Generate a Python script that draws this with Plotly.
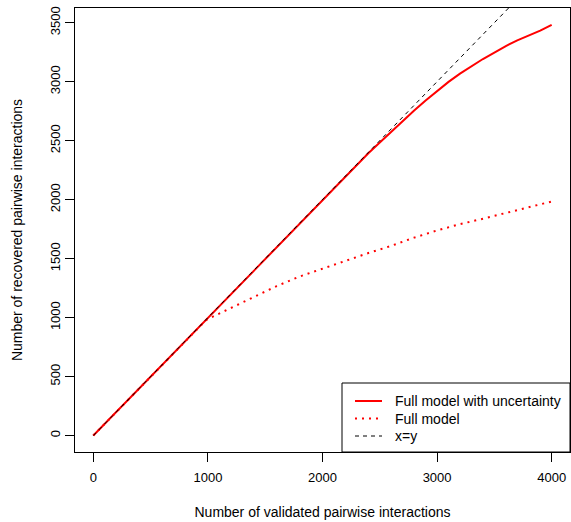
import plotly.graph_objects as go

# Validated interactions (x) vs. recovered interactions (y)
x_unc = [0, 500, 1000, 1500, 2000, 2300, 2400, 2500, 2600, 2700, 2800, 2900,
         3000, 3100, 3200, 3300, 3400, 3500, 3600, 3700, 3800, 3900, 4000]
y_unc = [0, 500, 1000, 1500, 2000, 2298, 2393, 2484, 2577, 2668, 2755, 2840,
         2920, 2998, 3068, 3132, 3192, 3246, 3302, 3350, 3390, 3432, 3482]

x_full = [0, 500, 980, 1000, 1200, 1400, 1600, 1800, 2000, 2200, 2400, 2600,
          2800, 3000, 3200, 3400, 3600, 3800, 4000]
y_full = [0, 500, 975, 988, 1080, 1178, 1267, 1348, 1415, 1484, 1547, 1608,
          1678, 1739, 1792, 1838, 1886, 1934, 1984]

x_ref = [0, 4000]
y_ref = [0, 4000]

x_ticks = [0, 1000, 2000, 3000, 4000]
y_ticks = [0, 500, 1000, 1500, 2000, 2500, 3000, 3500]

legend_labels = ["Full model with uncertainty", "Full model", "x=y"]

FONT = "Liberation Sans, Arial, sans-serif"
RED = "#FF0000"

styles = [
    dict(color=RED, width=2),
    dict(color=RED, width=2, dash="2px,5px"),
    dict(color="black", width=1, dash="4px,4px"),
]

fig = go.Figure()
for xs, ys, name, st in zip([x_unc, x_full, x_ref], [y_unc, y_full, y_ref],
                            legend_labels, styles):
    fig.add_trace(go.Scatter(x=xs, y=ys, mode="lines", name=name,
                             line=st, showlegend=False))

# Legend box in the lower-right corner of the plotting region
W, H = 495.0, 444.0          # plotting region size in px
def px(x):
    return (x - 75) / W
def py(y):
    return (452 - y) / H

shapes = [dict(type="rect", xref="paper", yref="paper",
               x0=px(342), x1=1.0, y0=0.0, y1=py(383),
               line=dict(color="black", width=1), fillcolor="white",
               layer="above")]
annotations = []
for i, (label, st) in enumerate(zip(legend_labels, styles)):
    yc = py(401 + 17.5 * i)
    shapes.append(dict(type="line", xref="paper", yref="paper",
                       x0=px(355), x1=px(382), y0=yc, y1=yc,
                       line=st, layer="above"))
    annotations.append(dict(xref="paper", yref="paper", x=px(393), y=yc,
                            text=label, showarrow=False, xanchor="left",
                            yanchor="middle", font=dict(size=14)))

ymax = 3485
fig.update_layout(
    width=571, height=522,
    margin=dict(l=75, r=1, t=8, b=70),
    paper_bgcolor="white", plot_bgcolor="white",
    font=dict(family=FONT, size=13, color="black"),
    showlegend=False,
    shapes=shapes,
    annotations=annotations,
    xaxis=dict(range=[-160, 4160], tickvals=x_ticks,
               showgrid=False, zeroline=False,
               showline=True, mirror=True, linecolor="black", linewidth=1,
               ticks="outside", ticklen=9, tickcolor="black",
               ticklabelstandoff=4,
               title=dict(text="Number of validated pairwise interactions",
                          standoff=23, font=dict(size=14))),
    yaxis=dict(range=[-0.04 * ymax, 1.04 * ymax], tickvals=y_ticks,
               tickangle=-90,
               showgrid=False, zeroline=False,
               showline=True, mirror=True, linecolor="black", linewidth=1,
               ticks="outside", ticklen=9, tickcolor="black",
               title=dict(text="Number of recovered pairwise interactions",
                          standoff=21, font=dict(size=14))),
)

fig.write_html("out.html")
